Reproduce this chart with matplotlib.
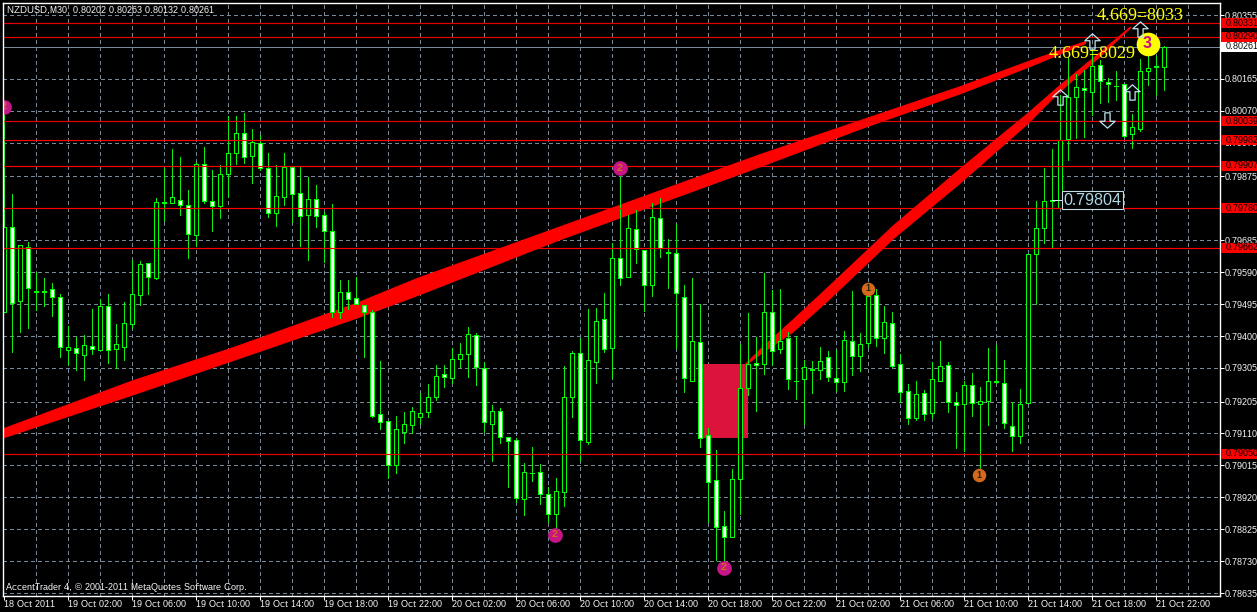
import numpy as np
import matplotlib
matplotlib.use("Agg")
import matplotlib.pyplot as plt
from matplotlib.patches import Rectangle
from matplotlib.path import Path
from matplotlib.transforms import blended_transform_factory

plt.rcParams['lines.scale_dashes'] = False
plt.rcParams['font.family'] = ['Liberation Sans', 'DejaVu Sans']
plt.rcParams['text.hinting'] = 'native'
plt.rcParams['text.hinting_factor'] = 1

# ---- prices in points (1 point = 0.00001) ----
OPEN = [79471,79724,79504,79665,79535,79535,79540,79516,79358,79364,79344,79370,79358,79489,79361,79367,
        79436,79522,79617,79573,79798,79796,79805,79790,79701,79912,79802,79787,79882,79945,80004,79936,
        79974,79900,79766,79814,79903,79826,79760,79808,79760,79713,79471,79531,79513,79492,79471,79168,
        79147,79016,79114,79135,79159,79174,79219,79287,79275,79332,79346,79403,79305,79138,79177,79099,
        79091,78915,78992,78995,78930,78870,78936,79219,79349,79085,79323,79451,79364,79632,79576,79718,
        79656,79552,79751,79649,79647,79516,79266,79382,79105,78972,78835,78802,78974,79245,79320,79317,
        79471,79361,79394,79266,79272,79301,79299,79338,79275,79263,79385,79341,79379,79522,79394,79439,
        79317,79236,79156,79230,79171,79266,79314,79204,79198,79254,79198,79207,79265,79260,79132,79102,
        79201,79644,79721,79804,79781,79986,80111,80138,80126,80207,80156,80144,80150,80001,80016,80189,
        80203,80202]
HIGH = [80058,79823,79671,79680,79591,79573,79558,79525,79430,79397,79403,79480,79510,79525,79436,79501,
        79626,79623,79617,79811,79900,79957,79933,79835,79918,79963,79894,79909,80055,80055,80064,80016,
        79998,79945,79909,79945,79903,79903,79873,79849,79769,79793,79567,79567,79576,79492,79477,79326,
        79147,79162,79174,79189,79230,79257,79314,79314,79364,79379,79427,79409,79323,79195,79186,79099,
        79097,79022,79070,79019,78951,78977,79311,79355,79394,79480,79483,79528,79677,79873,79760,79775,
        79656,79796,79811,79689,79733,79552,79573,79495,79126,79061,78879,79004,79376,79469,79397,79588,
        79537,79540,79412,79400,79329,79326,79367,79355,79358,79415,79534,79409,79540,79540,79489,79471,
        79346,79257,79266,79239,79323,79385,79323,79233,79266,79290,79248,79364,79373,79329,79204,79242,
        79644,79802,79900,79957,80117,80230,80180,80192,80251,80221,80168,80189,80150,80060,80224,80236,
        80233,80263]
LOW = [79471,79352,79412,79424,79477,79489,79460,79338,79314,79299,79269,79346,79358,79320,79305,79329,
       79424,79492,79525,79570,79742,79796,79760,79632,79668,79796,79713,79751,79814,79912,79915,79855,
       79894,79754,79727,79790,79739,79668,79626,79724,79620,79457,79454,79480,79495,79338,79159,79123,
       78977,78992,79082,79111,79138,79159,79210,79248,79260,79308,79278,79254,79114,79028,79082,78951,
       78906,78867,78969,78900,78847,78823,78894,79159,79028,79079,79260,79352,79275,79552,79576,79617,
       79474,79519,79635,79543,79364,79233,79266,79070,78847,78733,78725,78802,78870,79224,79177,79287,
       79314,79349,79242,79213,79138,79230,79272,79266,79236,79236,79284,79296,79367,79370,79349,79308,
       79204,79138,79150,79150,79156,79266,79174,79067,79058,79162,78986,79135,79260,79126,79058,79082,
       79201,79495,79677,79665,79781,79924,79989,79992,80058,80093,80096,80103,79992,79960,80010,80147,
       80117,80132]
CLOSE = [79724,79498,79671,79543,79532,79532,79516,79367,79367,79349,79373,79361,79489,79358,79376,79439,
         79525,79614,79576,79799,79795,79814,79790,79704,79912,79802,79787,79882,79945,80004,79933,79977,
         79900,79766,79817,79903,79823,79757,79808,79757,79713,79471,79531,79510,79495,79471,79162,79144,
         79016,79123,79138,79177,79171,79219,79281,79278,79332,79346,79406,79308,79144,79177,79099,79088,
         78918,78995,78992,78930,78870,78939,79219,79349,79091,79329,79445,79361,79632,79573,79721,79659,
         79552,79754,79662,79646,79528,79275,79385,79097,78966,78832,78802,78974,79245,79317,79314,79471,
         79355,79385,79272,79266,79308,79298,79326,79278,79263,79388,79341,79376,79519,79394,79442,79311,
         79233,79156,79227,79168,79272,79311,79204,79195,79254,79201,79207,79266,79262,79141,79102,79198,
         79644,79721,79802,79801,79983,80111,80141,80132,80204,80159,80150,80144,79995,80022,80189,80198,
         80200,80261]

TICK_LABELS_X = ["18 Oct 2011",
                 "19 Oct 02:00","19 Oct 06:00","19 Oct 10:00","19 Oct 14:00","19 Oct 18:00","19 Oct 22:00",
                 "20 Oct 02:00","20 Oct 06:00","20 Oct 10:00","20 Oct 14:00","20 Oct 18:00","20 Oct 22:00",
                 "21 Oct 02:00","21 Oct 06:00","21 Oct 10:00","21 Oct 14:00","21 Oct 18:00","21 Oct 22:00"]
TICK_BARS_X = [0,8,16,24,32,40,48,56,64,72,80,88,96,104,112,120,128,136,144]
GRID_BARS_X = [4,8,12,16,20,24,28,32,36,40,44,48,52,56,60,64,68,72,76,80,84,88,92,96,
               100,104,108,112,116,120,124,128,132,136,140,144,148]
PRICE_TICKS = [0.80355,0.80165,0.80070,0.79975,0.79875,0.79780,0.79685,0.79590,0.79495,0.79400,
               0.79305,0.79205,0.79110,0.79015,0.78920,0.78825,0.78730,0.78635]
HIDDEN_LABELS = [0.79780]
LEVELS = [0.80331,0.80290,0.80039,0.79982,0.79907,0.79780,0.79662,0.79050]
LEVEL_COLORS = ['#e60000','#e60000','#e60000','#ff0000','#ff0000','#ff0000','#ff0000','#e60000']
BID = 0.80261

TREND1_BARS = [0,16.2,28.7,44,51.7,69.6,94.6,107.1,119.6,128,135.2]
TREND1_UP   = [79126,79269,79367,79498,79573,79727,79942,80043,80144,80218,80278]
TREND1_LOW  = [79099,79227,79329,79454,79522,79689,79906,80018,80123,80201,80272]
TREND2_BARS = [92.7,94.6,98.7,103,111.2,119.6,128,131.7,137,140.8]
TREND2_UP   = [79318,79363,79451,79546,79730,79900,80064,80141,80245,80321]
TREND2_LOW  = [79315,79348,79415,79507,79692,79858,80034,80123,80233,80318]

ZONE_BARS = [87.1,93.0]
ZONE_PRICES = [79097,79317]

M2_BARS = [0,77,68.9,90]
M2_PRICES = [80082,79900,78808,78710]
M1_BARS = [108,121.9]
M1_PRICES = [79540,78986]
M3_BAR, M3_PRICE = 143,80269

UP_BARS = [132,136,141,142]
UP_PRICES = [80111,80278,80126,80313]
DOWN_BARS = [137.9]
DOWN_PRICES = [80043]

# ---- figure ----
W, H = 1257, 612
FS = 6.65
fig = plt.figure(figsize=(W/100, H/100), dpi=100, facecolor='black')
ax = fig.add_axes([2.5/W, 1-595.5/H, (1219.5-2.5)/W, 593/H], facecolor='black')
ax.set_xlim(-0.125, 152)
ax.set_ylim(0.786278, 0.803926)
for s in ax.spines.values():
    s.set_color('white'); s.set_linewidth(1.0)
ax.spines['left'].set_zorder(12); ax.spines['right'].set_zorder(12)

PX = 0.72
GRID = '#778899'
DASH = (0, (2.4, 2.4))
ax.vlines(GRID_BARS_X, 0.786278, 0.803926, colors=GRID, linewidth=PX, linestyles=[DASH], zorder=1, antialiased=False)
ax.hlines(PRICE_TICKS, -0.125, 152, colors=GRID, linewidth=PX, linestyles=[DASH], zorder=1, antialiased=False)
ax.axhline(BID, color=GRID, lw=PX, zorder=1)

ax.add_patch(Rectangle((ZONE_BARS[0], ZONE_PRICES[0]/1e5), ZONE_BARS[1]-ZONE_BARS[0],
                       (ZONE_PRICES[1]-ZONE_PRICES[0])/1e5, facecolor='#DC143C', edgecolor='none', zorder=2))

for bars, up, low in ((TREND1_BARS, TREND1_UP, TREND1_LOW), (TREND2_BARS, TREND2_UP, TREND2_LOW)):
    ax.fill_between(bars, np.array(low)/1e5, np.array(up)/1e5, facecolor='#ff0000', edgecolor='#ff0000',
                    linewidth=0.8, zorder=3, antialiased=False)

o, h, l, c = (np.array(a)/1e5 for a in (OPEN, HIGH, LOW, CLOSE))
idx = np.arange(len(o))
GREEN = '#10ee10'
ax.vlines(idx, l, h, colors=GREEN, linewidth=PX, zorder=4, antialiased=False)
faces = ['black' if cc > oo else 'white' for oo, cc in zip(o, c)]
ax.bar(idx, np.abs(c-o), bottom=np.minimum(o, c), width=0.5, color=faces, edgecolor='#00ff00',
       linewidth=PX, zorder=5, antialiased=False)

for lv, col in zip(LEVELS, LEVEL_COLORS):
    ax.axhline(lv, color=col, lw=PX*1.2, zorder=6)

ax.scatter(M2_BARS, np.array(M2_PRICES)/1e5, s=112, color='#C71585', zorder=7, linewidth=0, clip_on=True)
ax.scatter(M1_BARS, np.array(M1_PRICES)/1e5, s=95, color='#D2691E', zorder=7, linewidth=0)
ax.scatter([M3_BAR], [M3_PRICE/1e5], s=290, color='#FFFF00', zorder=7, linewidth=0)
for x, y in zip(M2_BARS, M2_PRICES):
    ax.text(x, y/1e5, '2', color='#D2691E', fontsize=7.5, fontweight='bold', ha='center', va='center', zorder=8, clip_on=True)
for x, y in zip(M1_BARS, M1_PRICES):
    ax.text(x, y/1e5, '1', color='#202000', fontsize=6.5, fontweight='bold', ha='center', va='center', zorder=8)
ax.text(M3_BAR, M3_PRICE/1e5, '3', color='#C71585', fontsize=12, fontweight='bold', ha='center', va='center', zorder=8)

up_arrow = Path([(-0.17,-0.5),(0.17,-0.5),(0.17,0.05),(0.5,0.05),(0,0.5),(-0.5,0.05),(-0.17,0.05),(-0.17,-0.5)], closed=True)
down_arrow = Path([(-0.17,0.5),(0.17,0.5),(0.17,-0.05),(0.5,-0.05),(0,-0.5),(-0.5,-0.05),(-0.17,-0.05),(-0.17,0.5)], closed=True)
ax.plot(UP_BARS, np.array(UP_PRICES)/1e5, ls='none', marker=up_arrow, ms=11, mfc='none', mec='#BFE6F2', mew=0.9, zorder=9)
ax.plot(DOWN_BARS, np.array(DOWN_PRICES)/1e5, ls='none', marker=down_arrow, ms=11, mfc='none', mec='#BFE6F2', mew=0.9, zorder=9)

def cap(px, py, s, **kw):
    return fig.text(px/W, 1-py/H, s, va='center', zorder=20, **kw)

serif = ['Liberation Serif', 'DejaVu Serif']
ax.text(136.6, 0.80352, '4.669=8033', color='#FFFF00', family=serif, fontsize=12.9, va='center', ha='left', zorder=10)
ax.text(130.6, 0.80239, '4.669=8029', color='#FFFF00', family=serif, fontsize=12.9, va='center', ha='left', zorder=10)

ax.hlines(0.79804, 131, 132.4, colors='#DDEEFF', linewidth=PX, zorder=10, antialiased=False)
ax.text(132.5, 0.79804, '0.79804', color='#ADD8E6', fontsize=11.6, va='center', ha='left', zorder=10,
        bbox=dict(facecolor='black', edgecolor='#C8DCE6', linewidth=0.8, boxstyle='square,pad=0.1'))

cap(7, 10.5, 'NZDUSD,M30  0.80202 0.80263 0.80132 0.80261', color='white', fontsize=FS)
cap(6, 587, 'AccentTrader 4, \u00a9 2001-2011 MetaQuotes Software Corp.', color='white', fontsize=FS)

ax.set_xticks(TICK_BARS_X)
ax.set_xticklabels(TICK_LABELS_X, ha='left')
ax.yaxis.tick_right()
ax.set_yticks(PRICE_TICKS + [BID])
ax.set_yticklabels(['' if p in HIDDEN_LABELS else f'{p:.5f}' for p in PRICE_TICKS] + [''])
ax.tick_params(axis='x', colors='white', length=3, width=PX, labelsize=FS, pad=0.5)
ax.tick_params(axis='y', colors='white', length=3, width=PX, labelsize=FS, pad=1.0)
ax.tick_params(axis='y', which='both', labelright=True, labelleft=False)

trans = blended_transform_factory(fig.transFigure, ax.transData)
box_h = 10*(0.803926-0.786278)/593
for lv in LEVELS:
    ax.add_patch(Rectangle((1221/W, lv-box_h/2), 36/W, box_h, transform=trans, facecolor='#ff0000',
                           edgecolor='none', clip_on=False, zorder=13))
    ax.text(1225.5/W, lv, f'{lv:.5f}', transform=trans, color='black', fontsize=FS, va='center', ha='left',
            clip_on=False, zorder=14)
ax.add_patch(Rectangle((1221/W, BID-box_h/2), 36/W, box_h, transform=trans, facecolor='white',
                       edgecolor='none', clip_on=False, zorder=13))
ax.text(1225.5/W, BID, f'{BID:.5f}', transform=trans, color='black', fontsize=FS, va='center', ha='left',
        clip_on=False, zorder=14)

fig.savefig('out.png', dpi=100, facecolor='black')
